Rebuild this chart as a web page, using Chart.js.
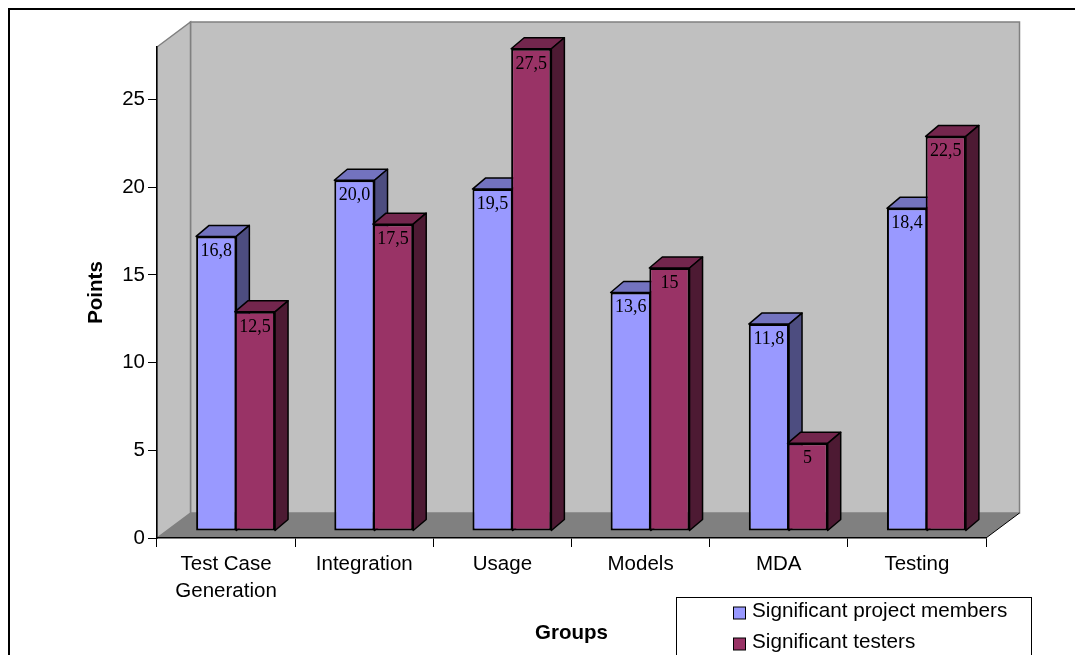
<!DOCTYPE html>
<html>
<head>
<meta charset="utf-8">
<title>Points per group</title>
<script src="https://cdn.jsdelivr.net/npm/chart.js@4"></script>
<style>
    html, body { margin: 0; padding: 0; background: #fff; overflow: hidden; }
    canvas { display: block; }
</style>
</head>
<body>
<canvas id="pointsChart" width="1075" height="655"></canvas>
<script>
// Datos del gráfico
const categories = [['Test Case', 'Generation'], 'Integration', 'Usage', 'Models', 'MDA', 'Testing'];
const projectMembers = [16.8, 20.0, 19.5, 13.6, 11.8, 18.4];
const testers = [12.5, 17.5, 27.5, 15, 5, 22.5];
const seriesNames = ['Significant project members', 'Significant testers'];

// Colores: cara frontal, cara superior, cara lateral
const memberColors = ['#9999ff', '#7373bf', '#4d4d80'];
const testerColors = ['#993366', '#73264d', '#4d1a33'];

// Profundidad de la caja de fondo y de cada barra
const wallDepth = { x: 33.5, y: 25 };
const barDepth = { x: 13, y: 11 };
const barShift = { x: 9.5, y: -7 };

function polygon(ctx, points, fill, stroke, width) {
    ctx.beginPath();
    points.forEach((p, i) => i ? ctx.lineTo(p[0], p[1]) : ctx.moveTo(p[0], p[1]));
    ctx.closePath();
    if (fill) {
        ctx.fillStyle = fill;
        ctx.fill();
    }
    if (stroke) {
        ctx.strokeStyle = stroke;
        ctx.lineWidth = width;
        ctx.stroke();
    }
}

const boxPlugin = {
    id: 'box',
    // Paredes y suelo detrás de las barras, más el marco exterior
    beforeDraw(chart) {
        const ctx = chart.ctx;
        const { left, right, top, bottom } = chart.chartArea;
        const dx = wallDepth.x, dy = wallDepth.y;
        ctx.save();
        ctx.lineJoin = 'miter';
        polygon(ctx, [[left + dx, top - dy], [right + dx, top - dy], [right + dx, bottom - dy], [left + dx, bottom - dy]], '#c0c0c0', '#808080', 1.5);
        polygon(ctx, [[left, top], [left + dx, top - dy], [left + dx, bottom - dy], [left, bottom]], '#c0c0c0', '#808080', 1.5);
        polygon(ctx, [[left, bottom], [left + dx, bottom - dy], [right + dx, bottom - dy], [right, bottom]], '#808080', null, 0);
        ctx.strokeStyle = '#000';
        ctx.lineWidth = 1;
        ctx.beginPath();
        ctx.moveTo(right, bottom);
        ctx.lineTo(right + dx, bottom - dy);
        ctx.stroke();
        // marco: solo arriba y a la izquierda
        ctx.lineWidth = 2;
        ctx.beginPath();
        ctx.moveTo(9, 655);
        ctx.lineTo(9, 9);
        ctx.lineTo(1075, 9);
        ctx.stroke();
        ctx.restore();
    },
    // El dibujo normal se cancela: el orden de las series se decide abajo
    beforeDatasetDraw() {
        return false;
    },
    // Primera serie debajo, segunda encima, cada una con su cara superior y lateral
    afterDatasetsDraw(chart) {
        const ctx = chart.ctx;
        [0, 1].forEach(index => {
            const meta = chart.getDatasetMeta(index);
            const colors = index === 0 ? memberColors : testerColors;
            ctx.save();
            ctx.translate(barShift.x, barShift.y);
            ctx.lineJoin = 'round';
            meta.data.forEach(bar => {
                const l = bar.x - bar.width / 2;
                const r = bar.x + bar.width / 2;
                const t = bar.y;
                const b = bar.base;
                polygon(ctx, [[l, t], [l + barDepth.x, t - barDepth.y], [r + barDepth.x, t - barDepth.y], [r, t]], colors[1], '#000', 1.5);
                polygon(ctx, [[r, t], [r + barDepth.x, t - barDepth.y], [r + barDepth.x, b - barDepth.y], [r, b]], colors[2], '#000', 1.5);
            });
            meta.controller.draw();
            ctx.restore();
        });
    },
    // Etiquetas de valor y leyenda
    afterDraw(chart) {
        const ctx = chart.ctx;
        ctx.save();
        ctx.font = '18px "Liberation Serif"';
        ctx.fillStyle = '#000';
        ctx.textAlign = 'center';
        ctx.textBaseline = 'middle';
        chart.data.datasets.forEach((set, i) => {
            chart.getDatasetMeta(i).data.forEach((bar, j) => {
                const text = i === 0 ? set.data[j].toFixed(1) : String(set.data[j]);
                ctx.fillText(text.replace('.', ','), bar.x + barShift.x, bar.y + barShift.y + 15);
            });
        });

        ctx.fillStyle = '#fff';
        ctx.strokeStyle = '#000';
        ctx.lineWidth = 1;
        ctx.fillRect(676, 597, 356, 60);
        ctx.strokeRect(676.5, 597.5, 355, 60);
        ctx.font = '20.7px "Liberation Sans"';
        ctx.textAlign = 'left';
        seriesNames.forEach((name, i) => {
            const y = 611 + i * 31;
            ctx.fillStyle = i === 0 ? memberColors[0] : testerColors[0];
            ctx.fillRect(733.5, y - 4, 12, 12);
            ctx.strokeRect(733.5, y - 4, 12, 12);
            ctx.fillStyle = '#000';
            ctx.fillText(name, 752, y);
        });
        ctx.restore();
    }
};

new Chart(document.getElementById('pointsChart'), {
    type: 'bar',
    data: {
        labels: categories,
        datasets: [
            { label: seriesNames[0], data: projectMembers, backgroundColor: memberColors[0] },
            { label: seriesNames[1], data: testers, backgroundColor: testerColors[0] }
        ]
    },
    options: {
        responsive: false,
        animation: false,
        devicePixelRatio: 1,
        layout: { padding: { left: 81, top: 47, right: 89, bottom: 0 } },
        datasets: {
            bar: {
                categoryPercentage: 0.56,
                barPercentage: 1.04,
                borderColor: '#000',
                borderWidth: 2,
                borderSkipped: false
            }
        },
        plugins: {
            legend: { display: false },
            tooltip: { enabled: false }
        },
        scales: {
            x: {
                afterFit(scale) { scale.height = 117; },
                grid: { drawOnChartArea: false, color: '#000', tickLength: 9, lineWidth: 1 },
                border: { color: '#000', width: 1.5 },
                ticks: {
                    color: '#000',
                    maxRotation: 0,
                    autoSkip: false,
                    padding: 4,
                    font: { family: '"Liberation Sans"', size: 20.5, lineHeight: 1.3 }
                },
                title: {
                    display: true,
                    text: 'Groups',
                    color: '#000',
                    padding: { top: 0, bottom: 9 },
                    font: { family: '"Liberation Sans"', size: 20.5, weight: 'bold', lineHeight: 1.2 }
                }
            },
            y: {
                min: 0,
                max: 28,
                afterFit(scale) { scale.width = 76; },
                afterBuildTicks(scale) {
                    scale.ticks = scale.ticks.filter(t => t.value % 5 === 0);
                },
                grid: { drawOnChartArea: false, color: '#000', tickLength: 9, lineWidth: 1 },
                border: { color: '#000', width: 1.5 },
                ticks: {
                    color: '#000',
                    stepSize: 5,
                    padding: 3,
                    font: { family: '"Liberation Sans"', size: 20.5 }
                },
                title: {
                    display: true,
                    text: 'Points',
                    color: '#000',
                    padding: { top: 3, bottom: 0 },
                    font: { family: '"Liberation Sans"', size: 20.5, weight: 'bold', lineHeight: 1.2 }
                }
            }
        }
    },
    plugins: [boxPlugin]
});
</script>
</body>
</html>
